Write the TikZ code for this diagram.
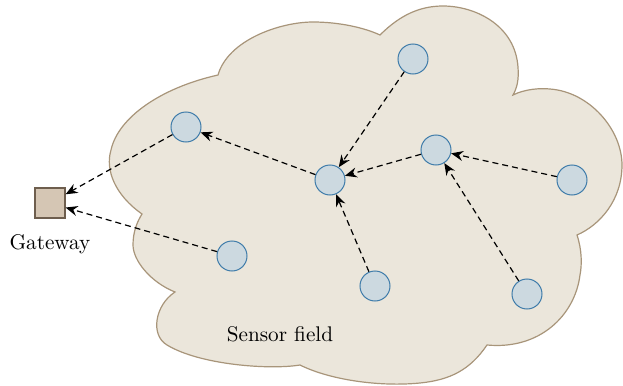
\documentclass[tikz,border=0pt]{standalone}
\usepackage{tikz}
\usetikzlibrary{arrows.meta}
\definecolor{fieldfill}{HTML}{EBE6DB}
\definecolor{fielddraw}{HTML}{A8957A}
\definecolor{sensfill}{HTML}{CCD9E0}
\definecolor{sensdraw}{HTML}{3F7CAA}
\definecolor{gwfill}{HTML}{D5C6B4}
\definecolor{gwdraw}{HTML}{6E5E4E}

\begin{document}
\begin{tikzpicture}[x=0.5pt, y=-0.5pt,
    every node/.style={font=\fontsize{10.6}{12}\selectfont},
    sensor/.style={circle, draw=sensdraw, fill=sensfill, line width=0.5pt, minimum size=15pt, inner sep=0pt},
    gate/.style={rectangle, draw=gwdraw, fill=gwfill, line width=0.6pt, minimum size=15pt, inner sep=0pt},
    link/.style={-{Stealth[length=6pt, width=5pt, inset=2pt]}, dash pattern=on 3pt off 2pt, line width=0.6pt, black}]
				\useasboundingbox (0, 0) rectangle (623, 386);
				% sensor field
				\filldraw [fill=fieldfill, draw=fielddraw, line width=0.6pt]
				  (142, 214) .. controls (115, 195) and (105, 170) .. (111, 150)
				  .. controls (118, 118) and (160, 88) .. (218, 75)
				  .. controls (228, 40) and (280, 22) .. (313, 22)
				  .. controls (340, 22) and (365, 28) .. (380, 35)
				  .. controls (400, 15) and (420, 6) .. (443, 6)
				  .. controls (475, 6) and (515, 25) .. (518, 67)
				  .. controls (519, 80) and (517, 88) .. (513, 95)
				  .. controls (525, 89) and (540, 88) .. (550, 89)
				  .. controls (590, 92) and (622, 130) .. (622, 165)
				  .. controls (622, 200) and (600, 225) .. (577, 235)
				  .. controls (582, 250) and (582, 265) .. (580, 275)
				  .. controls (575, 315) and (540, 350) .. (487, 345)
				  .. controls (470, 370) and (450, 380) .. (420, 383)
				  .. controls (380, 387) and (330, 380) .. (300, 365)
				  .. controls (270, 370) and (200, 365) .. (167, 345)
				  .. controls (150, 335) and (155, 305) .. (175, 292)
				  .. controls (150, 282) and (133, 260) .. (133, 245)
				  .. controls (133, 232) and (137, 222) .. (142, 214) -- cycle;
				\node (field) at (280, 334) {Sensor field};

				% gateway
				\node [gate] (gw) at (50, 203) {};
				\node (gwlabel) at (50, 244) {Gateway};

				% sensors
				\node [sensor] (s1) at (413, 59) {};
				\node [sensor] (s2) at (186, 127) {};
				\node [sensor] (s3) at (330, 180) {};
				\node [sensor] (s4) at (436, 150) {};
				\node [sensor] (s5) at (572, 180) {};
				\node [sensor] (s6) at (232, 256) {};
				\node [sensor] (s7) at (375, 286) {};
				\node [sensor] (s8) at (527, 294) {};

				% links
				\draw [link] (s2) -- (gw);
				\draw [link] (s6) -- (gw);
				\draw [link] (s3) -- (s2);
				\draw [link] (s1) -- (s3);
				\draw [link] (s4) -- (s3);
				\draw [link] (s7) -- (s3);
				\draw [link] (s5) -- (s4);
				\draw [link] (s8) -- (s4);

			\end{tikzpicture}
\end{document}
